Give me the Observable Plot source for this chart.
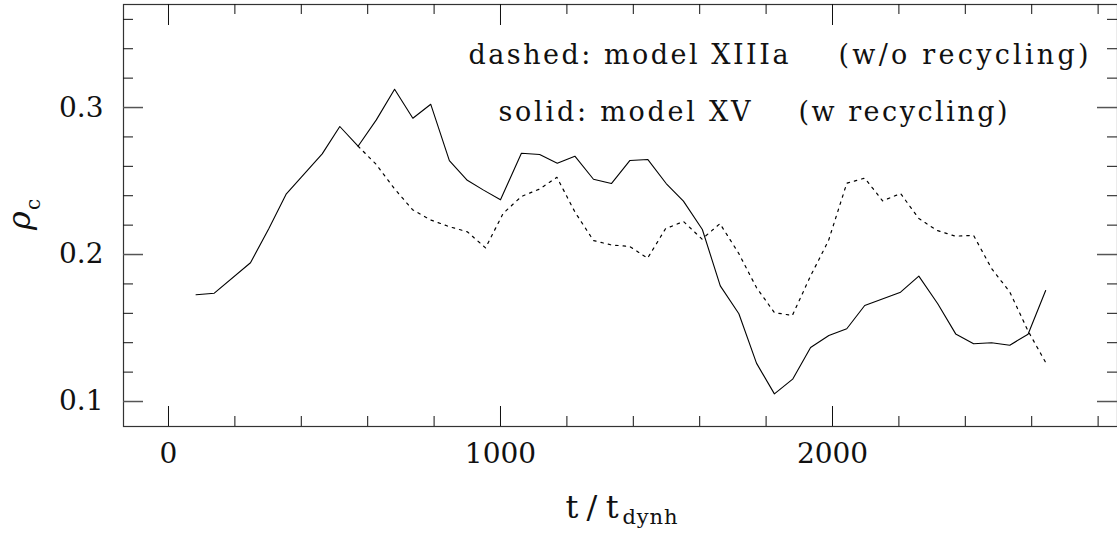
<!DOCTYPE html>
<html><head><meta charset="utf-8">
<script src="https://cdn.jsdelivr.net/npm/d3@7"></script>
<script src="https://cdn.jsdelivr.net/npm/@observablehq/plot@0.6"></script>
<style>body{margin:0;background:#fff} svg{display:block}</style>
</head><body><div id="chart"></div>
<script>
// solid: model XV (w recycling)
const solidT   = [83,138,247,302,355,463,516,571,626,681,736,790,846,900,949,1000,1063,1118,1171,1224,1280,1334,1390,1444,1499,1551,1608,1662,1718,1771,1825,1880,1934,1989,2043,2097,2205,2260,2317,2371,2425,2479,2534,2589,2642];
const solidRho = [0.1726,0.1737,0.1944,0.2175,0.2413,0.2685,0.2871,0.2737,0.2916,0.3124,0.2927,0.3022,0.2639,0.2505,0.2438,0.2372,0.2689,0.2680,0.2621,0.2669,0.2512,0.2483,0.2640,0.2646,0.2483,0.2363,0.2170,0.1787,0.1597,0.1261,0.1052,0.1152,0.1367,0.1449,0.1495,0.1653,0.1744,0.1853,0.1665,0.1460,0.1393,0.1400,0.1383,0.1458,0.1755];
// dashed: model XIIIa (w/o recycling)
const dashedT   = [571,625,680,735,790,845,900,955,1008,1063,1117,1170,1224,1280,1334,1389,1443,1497,1551,1607,1661,1717,1771,1825,1879,1933,1988,2043,2097,2151,2205,2260,2314,2370,2425,2479,2534,2589,2641];
const dashedRho = [0.2737,0.2615,0.2450,0.2305,0.2235,0.2190,0.2155,0.2045,0.2280,0.2395,0.2445,0.2525,0.2290,0.2095,0.2065,0.2055,0.1975,0.2175,0.2225,0.2105,0.2210,0.2010,0.1775,0.1605,0.1585,0.1850,0.2095,0.2485,0.2520,0.2365,0.2415,0.2245,0.2165,0.2125,0.2130,0.1905,0.1745,0.1480,0.1270];

const xMajorTicks = [0, 1000, 2000];
const xTickLabels = ["0", "1000", "2000"];
const xMinorTicks = [200,400,600,800,1200,1400,1600,1800,2200,2400,2600,2800];
const yMajorTicks = [0.1, 0.2, 0.3];
const yTickLabels = ["0.1", "0.2", "0.3"];
const yMinorTicks = [0.12,0.14,0.16,0.18,0.22,0.24,0.26,0.28,0.32,0.34,0.36];

const solid = solidT.map((t, i) => ({t, rho: solidRho[i]}));
const dashed = dashedT.map((t, i) => ({t, rho: dashedRho[i]}));

const W = 1117, H = 535, mL = 123, mR = 0, mT = 4, mB = 109;
const fw = W - mL - mR, fh = H - mT - mB;
const serif = "DejaVu Serif";
const ink = "#111";

const svg = Plot.plot({
  width: W, height: H,
  marginLeft: mL, marginRight: mR, marginTop: mT, marginBottom: mB,
  style: {background: "#fff", color: ink, fontFamily: serif},
  x: {domain: [-135.5, 2858.4], axis: null},
  y: {domain: [0.083, 0.3701], axis: null},
  marks: [
    Plot.frame({stroke: "#333", strokeWidth: 1.2}),
    // bottom ticks
    Plot.ruleX(xMajorTicks, {x: d => d, insetTop: fh - 20, stroke: ink}),
    Plot.ruleX(xMinorTicks, {x: d => d, insetTop: fh - 10, stroke: ink}),
    // top ticks
    Plot.ruleX(xMajorTicks, {x: d => d, insetBottom: fh - 21, stroke: ink}),
    Plot.ruleX(xMinorTicks, {x: d => d, insetBottom: fh - 10, stroke: ink}),
    // left ticks
    Plot.ruleY(yMajorTicks, {y: d => d, insetRight: fw - 20, stroke: "#555", strokeWidth: 1.5}),
    Plot.ruleY(yMinorTicks, {y: d => d, insetRight: fw - 10, stroke: ink}),
    // right ticks
    Plot.ruleY(yMajorTicks, {y: d => d, insetLeft: fw - 20, stroke: "#555", strokeWidth: 1.5}),
    Plot.ruleY(yMinorTicks, {y: d => d, insetLeft: fw - 10, stroke: ink}),
    // tick labels
    Plot.text(xMajorTicks, {x: d => d, text: (d, i) => xTickLabels[i], frameAnchor: "bottom", dy: 28, lineAnchor: "middle", fontSize: 28, fill: ink}),
    Plot.text(yMajorTicks, {y: d => d, text: (d, i) => yTickLabels[i], frameAnchor: "left", dx: -20, textAnchor: "end", lineAnchor: "middle", fontSize: 28, fill: ink}),
    // data
    Plot.line(dashed, {x: "t", y: "rho", stroke: "#000", strokeWidth: 1.2, strokeDasharray: "2.5,5"}),
    Plot.line(solid, {x: "t", y: "rho", stroke: "#000", strokeWidth: 1.1}),
    // annotations
    Plot.text(["dashed: model XIIIa"], {frameAnchor: "top-left", dx: 468 - mL, dy: 63 - mT, textAnchor: "start", lineAnchor: "bottom", fontSize: 27, fill: ink}),
    Plot.text(["(w/o recycling)"], {frameAnchor: "top-left", dx: 838 - mL, dy: 63 - mT, textAnchor: "start", lineAnchor: "bottom", fontSize: 27, fill: ink}),
    Plot.text(["solid: model XV"], {frameAnchor: "top-left", dx: 498 - mL, dy: 120 - mT, textAnchor: "start", lineAnchor: "bottom", fontSize: 27, fill: ink}),
    Plot.text(["(w recycling)"], {frameAnchor: "top-left", dx: 798 - mL, dy: 120 - mT, textAnchor: "start", lineAnchor: "bottom", fontSize: 27, fill: ink}),
    // axis titles
    Plot.text(["t/t"], {frameAnchor: "bottom-left", dx: 565 - mL, dy: 517 - 426, textAnchor: "start", lineAnchor: "bottom", fontSize: 32, fill: ink}),
    Plot.text(["dynh"], {frameAnchor: "bottom-left", dx: 622 - mL, dy: 523 - 426, textAnchor: "start", lineAnchor: "bottom", fontSize: 21, fill: ink}),
    Plot.text(["ρ"], {frameAnchor: "left", dx: 19 - mL, dy: 220 - 215, rotate: -90, textAnchor: "middle", lineAnchor: "middle", fontSize: 32, fontStyle: "italic", fill: ink}),
    Plot.text(["c"], {frameAnchor: "left", dx: 33 - mL, dy: 204 - 215, rotate: -90, textAnchor: "middle", lineAnchor: "middle", fontSize: 20, fill: ink})
  ]
});

const lengths = {
  "dashed: model XIIIa": 320,
  "(w/o recycling)": 250,
  "solid: model XV": 252,
  "(w recycling)": 209,
  "t/t": 53,
  "dynh": 55
};
d3.select(svg).selectAll("text").each(function() {
  const t = this.textContent;
  if (lengths[t]) {
    this.setAttribute("textLength", lengths[t]);
    this.setAttribute("lengthAdjust", "spacing");
  }
});
document.getElementById("chart").appendChild(svg);
</script>
</body></html>
